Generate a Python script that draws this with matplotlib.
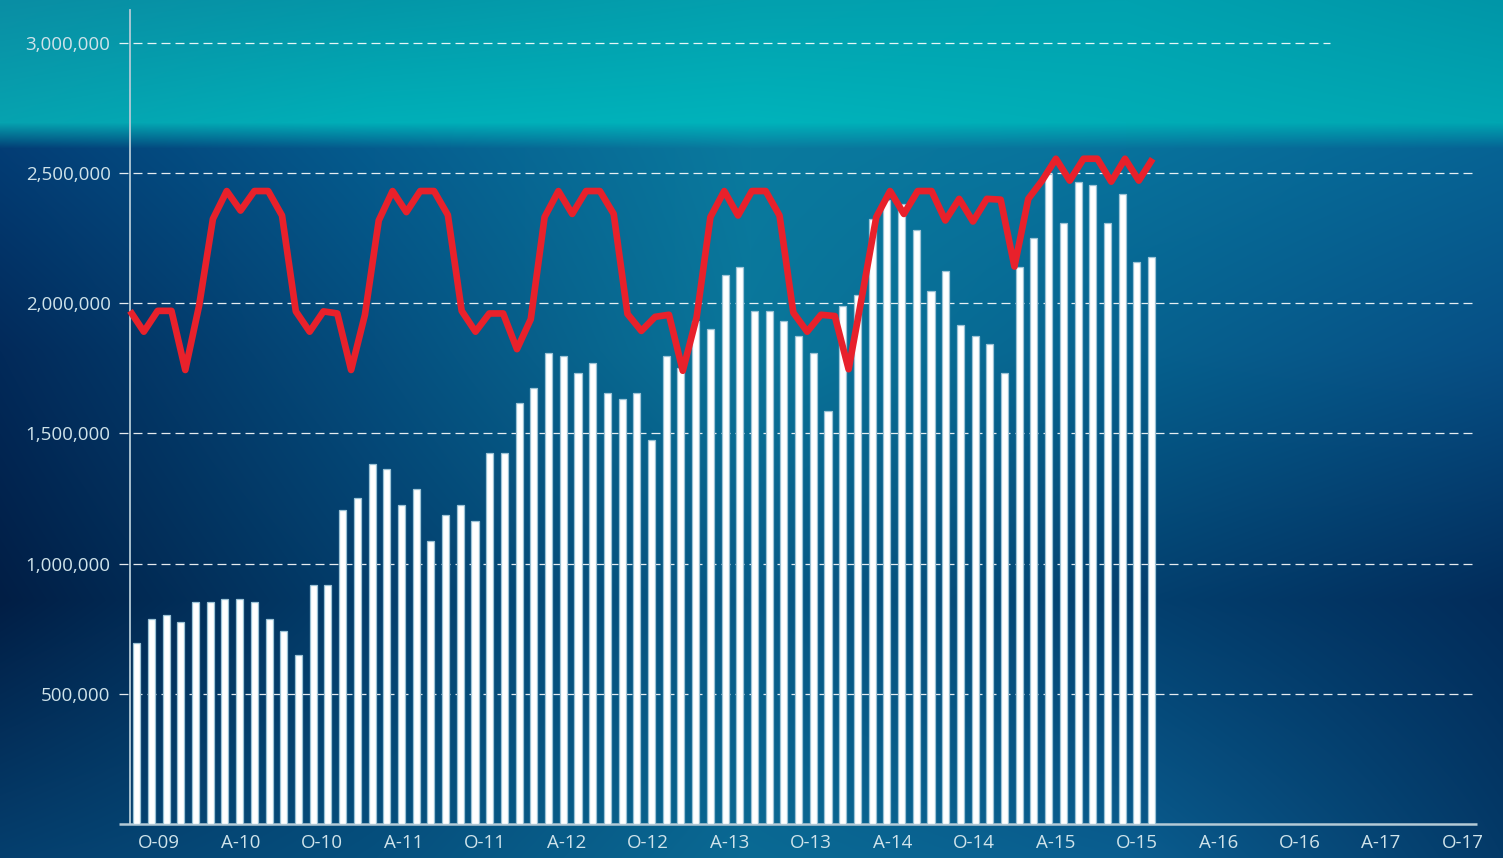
import numpy as np
import matplotlib
matplotlib.use("Agg")
import matplotlib.pyplot as plt
from matplotlib.colors import to_rgb
from matplotlib.ticker import FuncFormatter

plt.rcParams['font.family'] = ['Open Sans', 'DejaVu Sans']

# monthly capacity line (Sep-09 .. Oct-15), millions
capacity = [1.970, 1.890, 1.970, 1.970, 1.743, 1.990, 2.323, 2.430, 2.355, 2.430, 2.430, 2.336,
            1.968, 1.890, 1.968, 1.960, 1.743, 1.955, 2.317, 2.430, 2.349, 2.430, 2.430, 2.338,
            1.970, 1.890, 1.960, 1.960, 1.823, 1.938, 2.330, 2.430, 2.342, 2.430, 2.430, 2.342,
            1.958, 1.893, 1.947, 1.955, 1.740, 1.945, 2.330, 2.430, 2.336, 2.430, 2.430, 2.336,
            1.963, 1.890, 1.955, 1.950, 1.746, 2.035, 2.330, 2.430, 2.342, 2.430, 2.430, 2.317,
            2.400, 2.313, 2.400, 2.397, 2.140, 2.400, 2.470, 2.554, 2.470, 2.554, 2.554, 2.466,
            2.554, 2.470, 2.554]

# monthly passengers (bars), thousands
passengers = [694, 787, 804, 775, 853, 853, 864, 864, 853, 787, 741, 647,
              918, 918, 1205, 1252, 1383, 1362, 1223, 1287, 1085, 1186, 1223, 1165,
              1426, 1426, 1615, 1673, 1810, 1797, 1733, 1768, 1653, 1633, 1653, 1474,
              1797, 1750, 1932, 1900, 2108, 2140, 1970, 1970, 1930, 1874, 1810, 1585,
              1987, 2032, 2323, 2394, 2381, 2281, 2045, 2122, 1917, 1874, 1842, 1733,
              2140, 2249, 2496, 2308, 2464, 2454, 2308, 2417, 2157, 2176]

tick_labels = ['O-09', 'A-10', 'O-10', 'A-11', 'O-11', 'A-12', 'O-12', 'A-13', 'O-13',
               'A-14', 'O-14', 'A-15', 'O-15', 'A-16', 'O-16', 'A-17', 'O-17']
grid_values = [500000, 1000000, 1500000, 2000000, 2500000, 3000000]

W, H = 1503, 858
fig = plt.figure(figsize=(W / 100, H / 100), dpi=100)

# background gradient
bg_y = [0, 122, 148, 350, 600, 858]
bg_x = [0, 375, 750, 1125, 1503]
bg_cols = [
    ['#0a8ea4', '#0497a8', '#03a0ae', '#00a2b0', '#0096a8'],
    ['#06a3b0', '#00afb8', '#00b3bb', '#00adb6', '#00a6b2'],
    ['#033d75', '#055c8e', '#0a7a9e', '#08729c', '#066394'],
    ['#022a5a', '#054e7e', '#0a769a', '#06628f', '#074f85'],
    ['#011e45', '#033e6c', '#075b88', '#03406f', '#022c5a'],
    ['#053f6e', '#06507e', '#0a6a94', '#0a5e90', '#043a68'],
]
G = np.array([[to_rgb(c) for c in row] for row in bg_cols])
yy = np.arange(H)
xx = np.arange(W)
colinterp = np.zeros((H, len(bg_x), 3))
for j in range(len(bg_x)):
    for c in range(3):
        colinterp[:, j, c] = np.interp(yy, bg_y, G[:, j, c])
img = np.zeros((H, W, 3))
for c in range(3):
    for i in range(H):
        img[i, :, c] = np.interp(xx, bg_x, colinterp[i, :, c])
bg = fig.add_axes([0, 0, 1, 1])
bg.imshow(img, aspect='auto', interpolation='bilinear')
bg.axis('off')

txt = '#cfe3ea'
spine_col = '#b4cad6'

# main axes: month scale for tick labels
ax = fig.add_axes([130 / W, 34 / H, (1477 - 130) / W, (824 - 10) / H])
ax.patch.set_alpha(0)
ax.set_xlim(-2.158, 97.07)
ax.set_ylim(0, 3.125e6)
ax.set_xticks(np.arange(0, 97, 6))
ax.set_xticklabels(tick_labels)
ax.set_yticks(grid_values)
ax.yaxis.set_major_formatter(FuncFormatter(lambda v, p: f'{int(v):,}'))
ax.tick_params(axis='both', length=0, labelsize=13.5, labelcolor=txt)
ax.tick_params(axis='x', pad=7)
ax.tick_params(axis='y', pad=14)
for s in ['top', 'right', 'bottom']:
    ax.spines[s].set_visible(False)
ax.spines['left'].set_color(spine_col)
ax.spines['left'].set_linewidth(1.3)

trans = ax.get_yaxis_transform()
for v in grid_values:
    xmax = 0.891 if v == 3000000 else 1.0
    ax.plot([-0.0082, xmax], [v, v], transform=trans, color='white', lw=0.9,
            ls=(0, (7.2, 4.0)), alpha=0.9, clip_on=False, zorder=1)
ax.plot([-0.0082, 1.0], [0, 0], transform=trans, color=spine_col, lw=1.8,
        clip_on=False, zorder=1, solid_capstyle='butt')

# bars on their own x scale
axb = ax.twiny()
axb.set_xlim(-0.455, 91.12)
axb.axis('off')
axb.bar(np.arange(len(passengers)), np.array(passengers) * 1000, width=0.48,
        color='white', edgecolor='#9cc3d6', linewidth=0.9, zorder=2)

# capacity line on its own x scale
axl = ax.twiny()
axl.set_xlim(0, 97.47)
axl.axis('off')
axl.plot(np.arange(len(capacity)), np.array(capacity) * 1e6, color='#e8212b', lw=4.8,
         solid_joinstyle='round', solid_capstyle='butt', clip_on=False, zorder=3)

fig.savefig('out.png', dpi=100)
